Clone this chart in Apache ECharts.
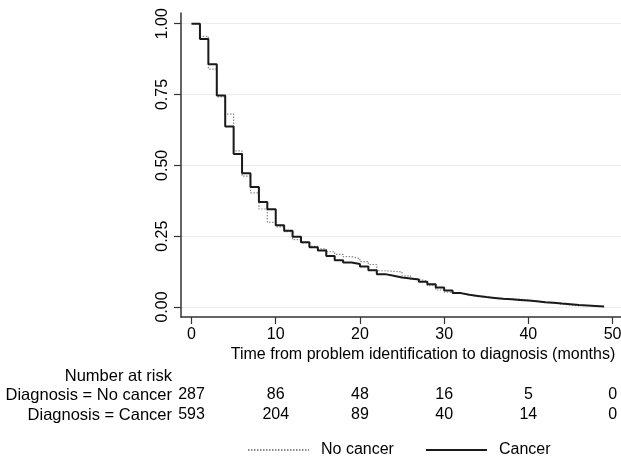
<!DOCTYPE html>
<html><head><meta charset="utf-8">
<script src="https://cdn.jsdelivr.net/npm/echarts@6/dist/echarts.min.js"></script>
<style>html,body{margin:0;padding:0;background:#fff}#c{width:621px;height:459px}</style>
</head><body><div id="c"></div>
<script>
// Kaplan-Meier step values (value holds from month t until the next month)
const months       = [0,1,2,3,4,5,6,7,8,9,10,11,12,13,14,15,16,17,18,19,20,21,22,23,24,25,26,27,28,29,30,31,32,33,34,35,36,37,38,39,40,41,42,43,44,45,46];
const cancerSurv   = [1.000,0.946,0.857,0.747,0.637,0.540,0.472,0.424,0.371,0.345,0.289,0.269,0.248,0.229,0.211,0.199,0.180,0.165,0.157,0.152,0.143,0.130,0.116,0.110,0.104,0.101,0.097,0.089,0.080,0.069,0.058,0.049,0.043,0.039,0.035,0.032,0.029,0.027,0.025,0.023,0.020,0.017,0.015,0.012,0.010,0.007,0.002];
const noCancerSurv = [1.000,0.955,0.840,0.742,0.681,0.551,0.462,0.403,0.346,0.299,0.283,0.266,0.238,0.226,0.214,0.205,0.195,0.186,0.178,0.171,0.160,0.150,0.128,0.126,0.124,0.110,0.098,0.091,0.075,0.060,0.052,0.047,0.042,0.038,0.035,0.031,0.028,0.028,0.028,0.024,0.021,0.017,0.014,0.010,0.007,0.004,0.004];
const cancerLastMonth   = 49;
const noCancerLastMonth = 46;

const xTicks = [0,10,20,30,40,50];
const yTicks = [0,0.25,0.5,0.75,1];
const riskNoCancer = [287,86,48,16,5,0];
const riskCancer   = [593,204,89,40,14,0];
const riskRowLabels = ['Diagnosis = No cancer','Diagnosis = Cancer'];

const FONT = "'Liberation Sans', Arial, Helvetica, sans-serif";
const AX = '#333';

function steps(ts, vs, last){
  const d = ts.map((t,i)=>[t, vs[i]]);
  if (last > ts[ts.length-1]) d.push([last, vs[vs.length-1]]);
  return d;
}

const xRange = {min:-1.25, max:51};
function riskAxis(counts, offset){
  return Object.assign({
    type:'value', gridIndex:0, position:'bottom', offset:offset,
    axisLine:{show:false}, axisTick:{show:false}, splitLine:{show:false},
    axisLabel:{customValues:xTicks, margin:0, fontSize:16, color:'#000', fontFamily:FONT,
      formatter:v=>{const i=xTicks.indexOf(v); return i<0?'':String(counts[i]);}}
  }, xRange);
}
function txt(s, x, y, align, size){
  return {type:'text', x:x, y:y, silent:true,
    style:{text:s, fontSize:size||16, fontFamily:FONT, fill:'#000', align:align, verticalAlign:'middle'}};
}

const chart = echarts.init(document.getElementById('c'), null, {renderer:'canvas'});
chart.setOption({
  animation:false,
  backgroundColor:'#fff',
  textStyle:{fontFamily:FONT},
  grid:{left:181, top:13, right:0, bottom:142, containLabel:false, outerBoundsMode:'none'},
  xAxis:[
    Object.assign({
      type:'value', gridIndex:0, position:'bottom',
      axisLine:{show:true, onZero:false, lineStyle:{color:AX, width:1.5}},
      axisTick:{show:true, customValues:xTicks, length:7, lineStyle:{color:AX, width:1.2}},
      axisLabel:{customValues:xTicks, margin:10, fontSize:16, color:'#000', fontFamily:FONT},
      splitLine:{show:false}
    }, xRange),
    riskAxis(riskNoCancer, 70),
    riskAxis(riskCancer, 90)
  ],
  yAxis:{
    type:'value', min:-0.0353, max:1.0378,
    axisLine:{show:true, onZero:false, lineStyle:{color:AX, width:1.5}},
    axisTick:{show:true, customValues:yTicks, length:7, lineStyle:{color:AX, width:1.2}},
    axisLabel:{customValues:yTicks, rotate:90, margin:10, fontSize:16, color:'#000', fontFamily:FONT,
      formatter:v=>v.toFixed(2)},
    splitLine:{show:true, lineStyle:{color:'#ececec', width:1}}
  },
  legend:{
    left:242, top:437, itemWidth:61, itemHeight:14, itemGap:31,
    itemStyle:{opacity:0},
    textStyle:{fontSize:16, color:'#000', fontFamily:FONT, padding:[0,0,0,7]},
    data:['No cancer','Cancer']
  },
  graphic:[
    txt('Time from problem identification to diagnosis (months)', 423, 355, 'center'),
    txt('Number at risk', 172, 376, 'right', 16.5),
    txt(riskRowLabels[0], 172, 395, 'right', 16.5),
    txt(riskRowLabels[1], 172, 415, 'right', 16.5)
  ],
  series:[
    {name:'No cancer', type:'line', step:'end', symbol:'none', xAxisIndex:0,
     data:steps(months, noCancerSurv, noCancerLastMonth),
     lineStyle:{color:'#8c8c8c', width:1.2, type:[1.5,1.5]}, itemStyle:{color:'#8c8c8c'}, z:2},
    {name:'Cancer', type:'line', step:'end', symbol:'none', xAxisIndex:0,
     data:steps(months, cancerSurv, cancerLastMonth),
     lineStyle:{color:'#1a1a1a', width:2}, itemStyle:{color:'#1a1a1a'}, z:3}
  ]
});
</script></body></html>
